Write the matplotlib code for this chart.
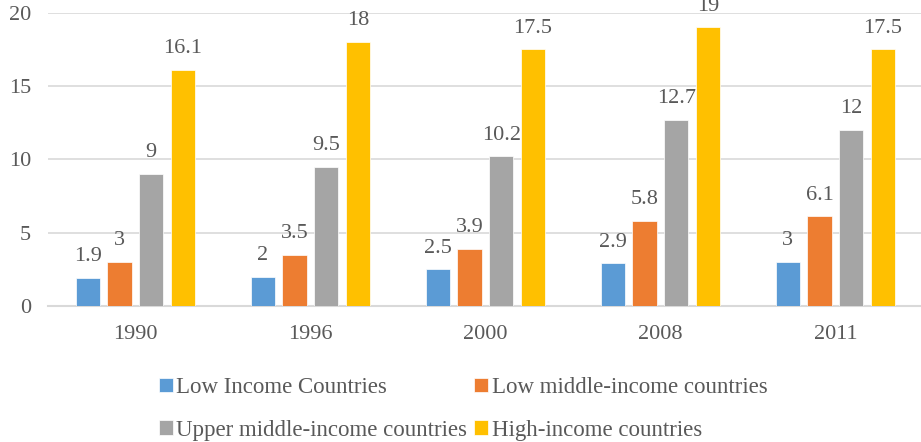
import matplotlib.pyplot as plt
import numpy as np

years = ['1990', '1996', '2000', '2008', '2011']
series_names = ['Low Income Countries', 'Low middle-income countries',
                'Upper middle-income countries', 'High-income countries']
low_income = [1.9, 2, 2.5, 2.9, 3]
low_middle = [3, 3.5, 3.9, 5.8, 6.1]
upper_middle = [9, 9.5, 10.2, 12.7, 12]
high_income = [16.1, 18, 17.5, 19, 17.5]

colors = ['#5B9BD5', '#ED7D31', '#A5A5A5', '#FFC000']
txt = '#595959'
fs = 16

plt.rcParams['font.family'] = ['Liberation Serif', 'DejaVu Serif']

fig = plt.figure(figsize=(9.21, 4.42), dpi=100)
ax = fig.add_axes([0.052, 0.308, 0.95, 0.663])

x = np.arange(len(years))
w = 0.14
step = 0.181
all_series = [low_income, low_middle, upper_middle, high_income]
handles = []
for i, (vals, name, c) in enumerate(zip(all_series, series_names, colors)):
    pos = x + (i - 1.5) * step
    bars = ax.bar(pos, vals, w, color=c, label=name, edgecolor='white',
                  linewidth=0.5, zorder=3)
    handles.append(bars)
    for b, v in zip(bars, vals):
        ax.annotate(f'{v:g}', (b.get_x() + b.get_width() / 2, v),
                    xytext=(0, 12), textcoords='offset points',
                    ha='center', va='baseline', fontsize=fs, color=txt,
                    annotation_clip=False)

ax.set_xlim(-0.5, 4.5)
ax.set_ylim(0, 20)
ax.set_yticks([0, 5, 10, 15, 20])
ax.set_xticks(x)
ax.set_xticklabels(years)
ax.grid(axis='y', color='#D9D9D9', linewidth=1.2, zorder=0)
for s in ['top', 'right', 'left']:
    ax.spines[s].set_visible(False)
ax.spines['bottom'].set_color('#D9D9D9')
ax.spines['bottom'].set_linewidth(1.5)
ax.tick_params(axis='both', length=0, labelsize=fs, labelcolor=txt)
ax.tick_params(axis='y', pad=12)
ax.tick_params(axis='x', pad=14)

# legend fills column-wise, so order handles to read row by row
order = [0, 2, 1, 3]
fig.legend([handles[k] for k in order], [series_names[k] for k in order],
           loc='lower center', bbox_to_anchor=(0.503, -0.044), ncol=2,
           frameon=False, fontsize=16.5, labelcolor=txt,
           handlelength=0.6, handleheight=0.6, handletextpad=0.15,
           columnspacing=0.3, labelspacing=0.95)

fig.savefig('out.png', dpi=100)
